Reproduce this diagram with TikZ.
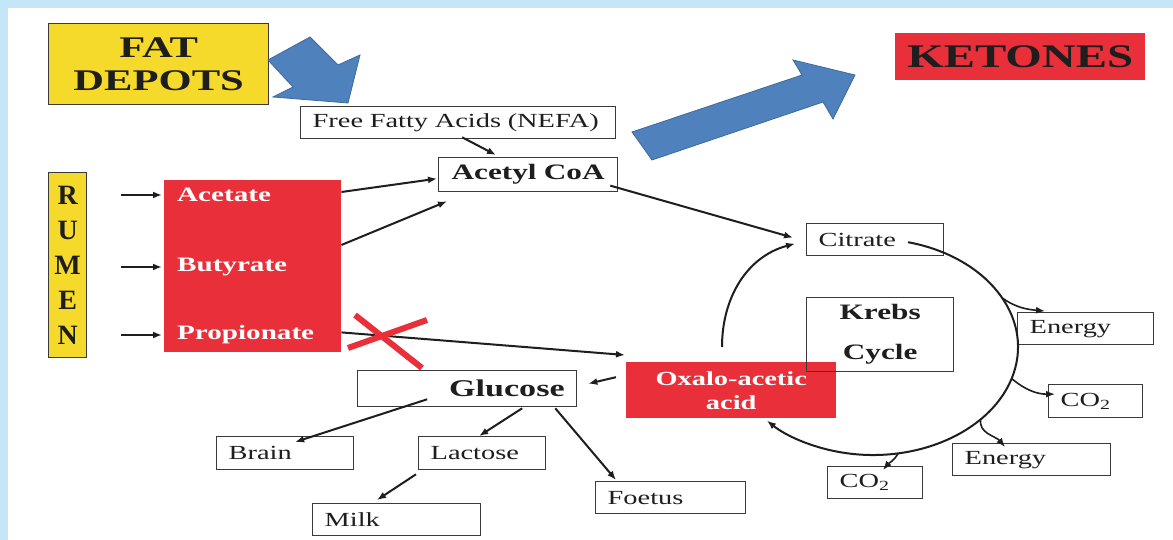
\documentclass[tikz,border=0pt]{standalone}
\usepackage{fontspec}
\setmainfont{Liberation Serif}[FakeStretch=1.42]
\newfontfamily\narrowserif{Liberation Serif}
\usepackage{tikz}
\usetikzlibrary{arrows.meta,positioning,calc}
\definecolor{ink}{HTML}{1E1E1E}
\definecolor{rim}{HTML}{3A3A3A}
\definecolor{frame}{HTML}{C4E6F6}
\definecolor{sun}{HTML}{F6DA2B}
\definecolor{hot}{HTML}{E9303A}
\definecolor{sky}{HTML}{4F81BD}
\definecolor{skyline}{HTML}{3D6A9E}
\tikzset{
  cell/.style={
    draw=rim, fill=white, line width=1.3pt, anchor=north west,
    inner xsep=12pt, inner ysep=0pt, align=left, text=ink,
    font=\fontsize{20}{22}\selectfont},
  hotcell/.style={
    fill=hot, anchor=north west, inner sep=0pt, align=center, text=white,
    font=\fontsize{20}{24}\selectfont\bfseries},
  sunbox/.style={
    draw=rim, fill=sun, line width=1.4pt, anchor=north west,
    inner sep=0pt, align=center, text=ink},
  acid/.style={anchor=west, inner sep=0pt, text=white,
    font=\fontsize{20.5}{24}\selectfont\bfseries},
  flow/.style={-{Latex[length=9pt,width=7pt]}, line width=2pt, color=ink},
  bigarrow/.style={fill=sky, draw=skyline, line width=0.8pt},
  redx/.style={draw=hot, line width=6pt},
}

\begin{document}
\begin{tikzpicture}[x=1pt, y=1pt]
  \fill[frame] (0,0) rectangle (1173,-540);
  \fill[white] (8,-8) rectangle (1173,-540);
  \useasboundingbox (0,0) rectangle (1173,-540);

  % sources
  \node[sunbox, minimum width=220pt, minimum height=81pt,
    font=\fontsize{30}{33}\selectfont\bfseries] (fat) at (48,-23) {FAT\\DEPOTS};
  \node[sunbox, minimum width=38pt, minimum height=185pt,
    font=\narrowserif\fontsize{28}{35}\selectfont\bfseries] (rumen) at (48,-172)
    {R\\U\\M\\E\\N};
  \node[hotcell, minimum width=250pt, minimum height=47pt, text=ink,
    font=\fontsize{33}{36}\selectfont\bfseries] (ketones) at (895,-33) {KETONES};

  % volatile fatty acids
  \node[hotcell, minimum width=177pt, minimum height=172pt] (vfa) at (164,-180) {};
  \node[acid] (acetate) at (177,-195) {Acetate};
  \node[acid] (butyrate) at (177,-267) {Butyrate};
  \node[acid] (propionate) at (177,-335) {Propionate};

  \node[cell, text width=291pt, minimum height=32pt] (nefa) at (300,-106)
    {Free Fatty Acids (NEFA)};
  \node[cell, text width=155pt, minimum height=34pt, align=center,
    font=\fontsize{22}{24}\selectfont\bfseries] (acetyl) at (438,-157) {Acetyl CoA};

  % krebs cycle
  \node[cell, text width=113pt, minimum height=32pt] (citrate) at (806,-223) {Citrate};
  \node[hotcell, minimum width=210pt, minimum height=56pt] (oxalo) at (626,-362)
    {Oxalo-acetic\\acid};
  \node[cell, fill=none, text width=123pt, minimum height=74pt, align=center,
    font=\fontsize{22}{40}\selectfont\bfseries] (krebs) at (806,-297) {Krebs\\Cycle};
  \node[cell, text width=112pt, minimum height=32pt] (energya) at (1017,-312) {Energy};
  \node[cell, text width=70pt, minimum height=33pt] (co2a) at (1048,-384) {CO\textsubscript{2}};
  \node[cell, text width=134pt, minimum height=32pt] (energyb) at (952,-443) {Energy};
  \node[cell, text width=71pt, minimum height=32pt] (co2b) at (827,-466) {CO\textsubscript{2}};

  % glucose and its uses
  \node[cell, text width=195pt, minimum height=36pt, align=right,
    font=\fontsize{24}{26}\selectfont\bfseries] (glucose) at (357,-370) {Glucose};
  \node[cell, text width=113pt, minimum height=33pt] (brain) at (216,-436) {Brain};
  \node[cell, text width=103pt, minimum height=33pt] (lactose) at (418,-436) {Lactose};
  \node[cell, text width=126pt, minimum height=32pt] (foetus) at (595,-481) {Foetus};
  \node[cell, text width=144pt, minimum height=32pt] (milk) at (312,-503) {Milk};

  % big blue arrows
  \draw[bigarrow] (268,-60) -- (310,-37) -- (338,-65) -- (360,-55) -- (348,-103)
    -- (273,-97) -- (293,-87) -- cycle;
  \draw[bigarrow] (632,-132) -- (802,-75) -- (793,-60) -- (855,-75) -- (833,-119)
    -- (823,-102) -- (652,-160) -- cycle;

  % rumen to acids
  \foreach \n in {acetate,butyrate,propionate}
    \draw[flow] ($(rumen.east |- \n.west)+(34,0)$) -- ($(vfa.west |- \n.west)+(-2,0)$);

  \draw[flow] ($(nefa.south)+(4,2)$) -- ($(acetyl.north west)+(58,2)$);
  \draw[flow] ($(vfa.north east)+(0,-12)$) -- ($(acetyl.west)+(-1,-4)$);
  \draw[flow] ($(vfa.north east)+(0,-65)$) -- ($(acetyl.south west)+(9,-9)$);
  \draw[flow] ($(acetyl.east)+(-8,-11)$) -- ($(citrate.west)+(-13,2)$);
  \draw[flow] ($(vfa.south east)+(0,20)$) -- ($(oxalo.north west)+(-1,7)$);
  \draw[redx] (355,-315) -- (422,-368);
  \draw[redx] (348,-348) -- (427,-320);

  % the cycle
  \coordinate (kc) at (873,-347);
  \coordinate (cycleft) at (722,-347);
  \draw[flow] (cycleft) to[out=90, in=195] ($(citrate.west)+(-11,-4)$);
  \draw[flow] ($(kc)+(76:145 and 108)$) arc[start angle=76, end angle=-137,
    x radius=145, y radius=108];
  \draw[flow, line width=1.6pt] ($(kc)+(27:145 and 108)$) to[out=-35, in=175]
    ($(energya.north west)+(28,1)$);
  \draw[flow, line width=1.6pt] ($(kc)+(-17:145 and 108)$) to[out=-40, in=180]
    ($(co2a.west)+(7,7)$);
  \draw[flow, line width=1.6pt] ($(kc)+(-42:145 and 108)$) to[out=-100, in=130]
    ($(energyb.north west)+(53,-4)$);
  \draw[flow, line width=1.6pt] ($(kc)+(-80:145 and 108)$) to[out=-120, in=50]
    ($(co2b.north west)+(56,-4)$);

  % glucose
  \draw[flow] ($(oxalo.west)+(-10,13)$) -- ($(glucose.east)+(11,5)$);
  \draw[flow] ($(glucose.south)+(-40,8)$) -- ($(brain.north)+(10,-6)$);
  \draw[flow] ($(glucose.south)+(55,-1)$) -- ($(lactose.north)+(-3,0)$);
  \draw[flow] ($(glucose.south east)+(-22,-1)$) -- ($(foetus.north west)+(21,1)$);
  \draw[flow] ($(lactose.south west)+(-2,-4)$) -- ($(milk.north west)+(65,3)$);
\end{tikzpicture}
\end{document}
